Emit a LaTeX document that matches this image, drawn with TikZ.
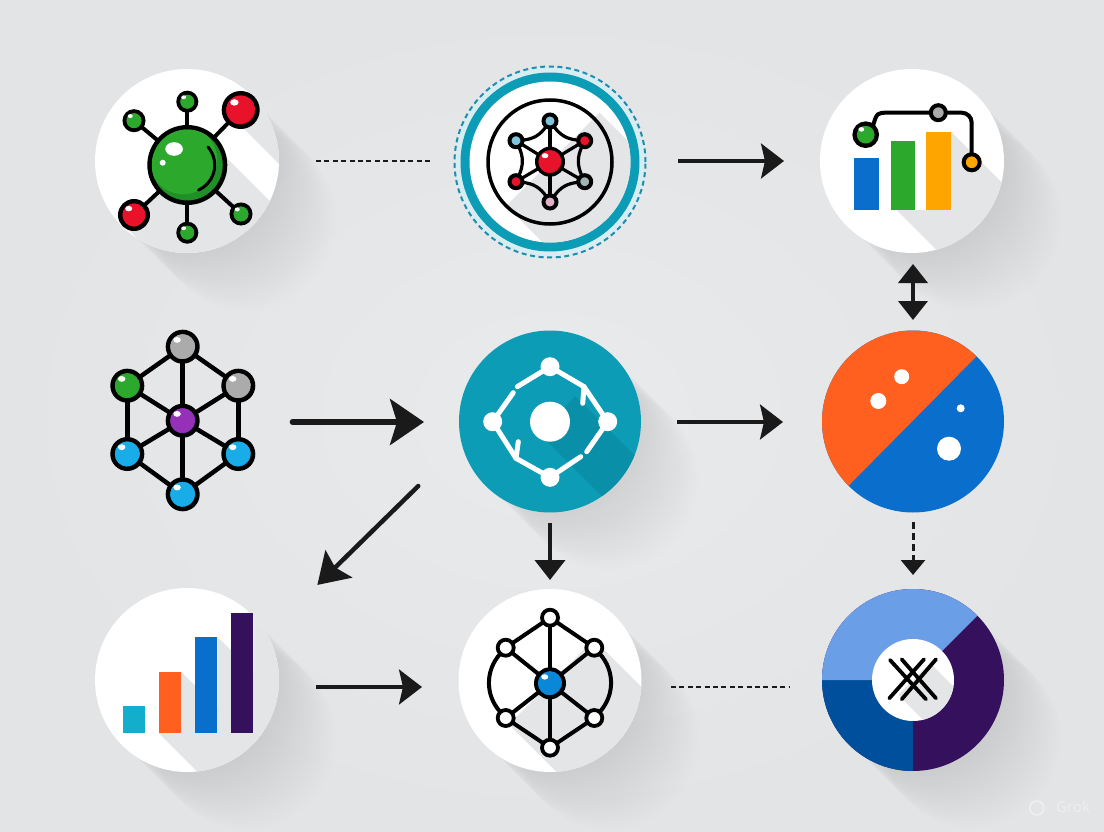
\documentclass[tikz,border=0pt]{standalone}
\usepackage{fontspec}
\setmainfont{Open Sans}
\usetikzlibrary{arrows.meta,calc}
\definecolor{bgin}{HTML}{E9EAEC}
\definecolor{bgout}{HTML}{E3E4E6}
\definecolor{bandg}{HTML}{E4E5E7}
\definecolor{teal}{HTML}{0C9CB5}
\definecolor{tealdk}{HTML}{0A8FA8}
\definecolor{ringd}{HTML}{1C8FB0}
\definecolor{halo}{HTML}{D8EDF2}
\definecolor{org}{HTML}{FF5F1F}
\definecolor{blu}{HTML}{0A6FCC}
\definecolor{grn}{HTML}{2CA82C}
\definecolor{grnd}{HTML}{1F9028}
\definecolor{rd}{HTML}{E8122A}
\definecolor{rdd}{HTML}{BE0F24}
\definecolor{amber}{HTML}{FFA500}
\definecolor{purp}{HTML}{35105C}
\definecolor{navy}{HTML}{004F9C}
\definecolor{sky}{HTML}{6A9FE8}
\definecolor{cyan2}{HTML}{18ACE8}
\definecolor{cyan2d}{HTML}{0D8FD0}
\definecolor{gry}{HTML}{ABABAB}
\definecolor{gryd}{HTML}{8E8E8E}
\definecolor{vio}{HTML}{9530B8}
\definecolor{viod}{HTML}{7A2399}
\definecolor{ink}{HTML}{1A1A1A}
\definecolor{pale}{HTML}{7FC4DC}
\definecolor{rosy}{HTML}{E0B0C8}
\definecolor{sage}{HTML}{9FB3B3}
\definecolor{hub}{HTML}{0A88D8}
\definecolor{hubd}{HTML}{0A68B8}
\definecolor{wm}{HTML}{EFEFF1}
\definecolor{tealbar}{HTML}{12AECB}
\tikzset{
  disc/.style={circle,inner sep=0pt,outer sep=0pt,fill=white,minimum size=#1},
  edge/.style={line width=4pt,black},
  arr/.style={draw=ink,line width=3.5pt,-{Stealth[length=23pt,width=35pt,inset=4pt]}},
  bigarr/.style={draw=ink,line width=5.5pt,line cap=round,-{Stealth[length=34pt,width=46pt,inset=7pt]}},
  diagarr/.style={draw=ink,line width=4.5pt,line cap=round,-{Stealth[length=30pt,width=38pt,inset=5pt]}},
  duo/.style={draw=ink,line width=4pt,{Stealth[length=19pt,width=29pt,inset=0pt]}-{Stealth[length=19pt,width=29pt,inset=0pt]}},
  downarr/.style={draw=ink,line width=4pt,-{Stealth[length=20pt,width=30pt,inset=0pt]}},
  dashline/.style={draw=ink,line width=2.5pt,dash pattern=on 5pt off 3.4pt},
  dashdown/.style={draw=ink,line width=3pt,dash pattern=on 7pt off 4pt,-{Stealth[length=15pt,width=24pt,inset=0pt]}},
  whiteline/.style={white,line width=5pt,line cap=round},
  thin edge/.style={line width=3.2pt,black},
}
\newcommand{\softsh}[3]{\foreach \d in {2,4.5,...,60}{\fill[black,opacity=.004] ({#1+\d},{#2+\d}) circle (#3);}}
\newcommand{\band}[5][bandg]{\fill[#1] ({#2+.707*#4},{#3-.707*#4}) -- ++(260,260) -- ({#2-.707*#5+260},{#3+.707*#5+260}) -- ({#2-.707*#5},{#3+.707*#5}) -- cycle;}
\newcommand{\rectband}[4]{\fill[bandg] (#2,#3) -- ++(260,260) -- ({#1+260},{#4+260}) -- (#1,#4) -- (#2,#4) -- cycle;}
\newcommand{\barbox}[5]{\fill[#5] (#1,#2) rectangle (#3,#4);}
\newcommand{\ball}[7][4]{%
  \node[circle,draw=black,line width=#1pt,fill=#7,inner sep=0pt,outer sep=0pt,minimum size={2*#5*1pt-#1*1pt}] (#2) at (#3,#4) {};
  \begin{scope}
    \clip (#3,#4) circle ({#5-#1});
    \fill[#6] ({#3-.1*#5},{#4-.12*#5}) circle ({#5*.85});
  \end{scope}
  \fill[white] ({#3-.33*#5},{#4-.4*#5}) ellipse ({.22*#5} and {.17*#5});
}
\newcommand{\flatball}[5]{\node[circle,draw=black,line width=4pt,fill=#5,inner sep=0pt,outer sep=0pt,minimum size=#4pt] (#1) at (#2,#3) {};}
\newcommand{\ringball}[4]{\node[circle,draw=black,line width=3.8pt,fill=white,inner sep=0pt,outer sep=0pt,minimum size=#4pt] (#1) at (#2,#3) {};}
\begin{document}
\begin{tikzpicture}[x=1pt,y=-1pt]
\useasboundingbox (0,0) rectangle (1104,832);
\shade[inner color=bgin,outer color=bgout] (0,0) rectangle (1104,832);
% outer shadows
\softsh{187}{161}{90}
\softsh{912}{161}{90}
\softsh{550}{421.5}{89}
\softsh{550}{680.5}{90}
\softsh{913}{680}{89}
\softsh{187}{680}{90}

% ---------- c1: molecule
\node[disc=184pt] (c1) at (187,161) {};
\begin{scope}
  \clip (187,161) circle (92);
  \band{187}{165}{33}{87}
  \band{240.7}{110}{19}{11}
\end{scope}
\ball[4.5]{a0}{187.3}{165}{40}{grn}{grnd}
\ball[4]{a1}{187.3}{101.7}{11}{grn}{grnd}
\ball[4]{a2}{134}{120.7}{11.5}{grn}{grnd}
\ball[4.5]{a3}{240.7}{110}{19}{rd}{rdd}
\ball[4.5]{a4}{134}{215}{16}{rd}{rdd}
\ball[4]{a5}{241}{214}{11.5}{grn}{grnd}
\ball[4]{a6}{187.3}{232.7}{11}{grn}{grnd}
\foreach \s in {a1,a2,a3,a4,a5,a6}{\draw[edge] (a0) -- (\s);}
\fill[white] (162.7,162.7) circle (3);
\draw[black,line width=3pt,line cap=round] (208,147) arc[start angle=-41,end angle=66,radius=27.5];

% ---------- c2: ringed network
\fill[halo] (550,162) circle (95);
\node[circle,inner sep=0pt,outer sep=0pt,minimum size=191pt,draw=ringd,line width=2pt,dash pattern=on 5pt off 3.6pt] (c2) at (550,162) {};
\fill[teal] (550,162) circle (89.5);
\fill[white] (550,162) circle (80.5);
\begin{scope}
  \clip (550,162) circle (80.5);
  \band{550}{162}{70}{62}
\end{scope}
\draw[black,line width=3.5pt] (550,162) circle (62);
\ball[3.5]{b0}{550}{161.7}{15}{rd}{rdd}
\flatball{b1}{550}{121}{13}{pale}
\flatball{b2}{516}{140.7}{13}{pale}
\flatball{b3}{584.7}{140.7}{13}{rd}
\flatball{b4}{516}{181.7}{13}{rd}
\flatball{b5}{584.7}{181.7}{13}{sage}
\flatball{b6}{550}{202}{13}{rosy}
\foreach \s in {b1,b2,b3,b4,b5,b6}{\draw[thin edge] (b0) -- (\s);}
\draw[thin edge] (b1) to[bend right=25] (b3);
\draw[thin edge] (b3) to[bend right=25] (b5);
\draw[thin edge] (b5) to[bend right=25] (b6);
\draw[thin edge] (b6) to[bend right=25] (b4);
\draw[thin edge] (b4) to[bend right=25] (b2);
\draw[thin edge] (b2) to[bend right=25] (b1);

% ---------- c3: bars with line
\node[disc=184pt] (c3) at (912,161) {};
\begin{scope}
  \clip (912,161) circle (92);
  \rectband{896.7}{951}{131.7}{210}
\end{scope}
\barbox{854}{157.7}{879}{210}{blu}
\barbox{890.7}{140.7}{915}{210}{grn}
\barbox{926.3}{131.7}{951}{210}{amber}
\ball[4.5]{g1}{865.7}{134.7}{13.3}{grn}{grnd}
\flatball{g2}{938.3}{112.7}{15}{gry}
\flatball{g3}{971.7}{162.3}{16}{amber}
\draw[edge] (g1.50) .. controls (877,112.7) .. (888,112.7) -- (g2.west);
\draw[edge,rounded corners=10pt] (g2.east) -| (g3.north);

% ---------- n: free-standing network
\ball[4.5]{n0}{182.7}{420.7}{17}{vio}{viod}
\ball[4.5]{n1}{182.7}{346.7}{17}{gry}{gryd}
\ball[4.5]{n2}{127.3}{385.7}{17}{grn}{grnd}
\ball[4.5]{n3}{238.3}{385.7}{17}{gry}{gryd}
\ball[4.5]{n4}{127.3}{454}{17}{cyan2}{cyan2d}
\ball[4.5]{n5}{238.3}{454}{17}{cyan2}{cyan2d}
\ball[4.5]{n6}{182.7}{494.3}{17}{cyan2}{cyan2d}
\foreach \s in {n1,n2,n3,n4,n5,n6}{\draw[edge,line width=4.5pt] (n0) -- (\s);}
\draw[edge,line width=4.5pt] (n1) -- (n2);
\draw[edge,line width=4.5pt] (n1) -- (n3);
\draw[edge,line width=4.5pt] (n2) -- (n4);
\draw[edge,line width=4.5pt] (n3) -- (n5);
\draw[edge,line width=4.5pt] (n4) -- (n6);
\draw[edge,line width=4.5pt] (n5) -- (n6);

% ---------- c4: teal disc
\node[disc=182pt,fill=teal] (c4) at (550,421.5) {};
\begin{scope}
  \clip (550,421.5) circle (91);
  \band[tealdk]{550}{421.5}{36}{16}
\end{scope}
\node[circle,fill=white,inner sep=0pt,minimum size=40pt] (d0) at (550,421.7) {};
\node[circle,fill=white,inner sep=0pt,minimum size=19pt] (d1) at (550,366.7) {};
\node[circle,fill=white,inner sep=0pt,minimum size=19pt] (d2) at (492.7,421.7) {};
\node[circle,fill=white,inner sep=0pt,minimum size=19pt] (d3) at (607.7,421.7) {};
\node[circle,fill=white,inner sep=0pt,minimum size=19pt] (d4) at (550,477.3) {};
\coordinate (k1) at (584,386.7);
\coordinate (k2) at (516,458.3);
\draw[whiteline] (d1.center) -- (517.3,386.7);
\draw[whiteline] (d1.center) -- (k1) -- (d3.center);
\draw[whiteline] (k1) -- (582.7,403.3);
\draw[whiteline] (d2.center) -- (k2) -- (d4.center);
\draw[whiteline] (k2) -- (518.3,441.7);
\draw[whiteline] (d2.center) -- (513.3,392.7);
\draw[whiteline] (d4.center) -- (580.7,456.7);
\draw[whiteline] (d3.center) -- (586.7,451.7);

% ---------- c5: split disc
\node[disc=182pt,fill=blu] (c5) at (913,421.5) {};
\begin{scope}
  \clip (913,421.5) circle (91);
  \fill[org] (1000,332.5) -- (830,504.5) -- (700,300) -- (1000,250) -- cycle;
\end{scope}
\fill[white] (901.7,376.7) circle (7.5);
\fill[white] (878.3,401) circle (8);
\fill[white] (960.7,408.3) circle (4);
\fill[white] (949,448.7) circle (12);

% ---------- c6: hub network
\node[disc=183pt] (c6) at (550,680.5) {};
\begin{scope}
  \clip (550,680.5) circle (91.5);
  \band{550}{683.3}{62}{58}
\end{scope}
\ball[4]{e0}{550}{683.3}{16}{hub}{hubd}
\ringball{e1}{550}{617.7}{16}
\ringball{e2}{505.7}{647.7}{16}
\ringball{e3}{594.3}{647.7}{16}
\ringball{e4}{505.7}{718}{16}
\ringball{e5}{594.3}{718}{16}
\ringball{e6}{550}{747.7}{16}
\foreach \s in {e1,e2,e3,e4,e5,e6}{\draw[edge] (e0) -- (\s);}
\draw[edge] (e1) -- (e2);
\draw[edge] (e1) -- (e3);
\draw[edge] (e6) -- (e4);
\draw[edge] (e6) -- (e5);
\draw[edge] (e2) to[bend right=42] (e4);
\draw[edge] (e3) to[bend left=42] (e5);

% ---------- c7: donut
\node[disc=182pt,fill=purp] (c7) at (913,680) {};
\begin{scope}
  \clip (913,680) circle (91);
  \fill[navy] (913,680) rectangle (800,800);
  \fill[sky] (913,680) -- (800,680) -- (800,560) -- (1033,560) -- cycle;
\end{scope}
\node[disc=82pt] (c7i) at (913,680) {};
\begin{scope}
  \clip (913,680) circle (41);
  \band{913}{680}{24}{21}
\end{scope}
\foreach \p/\q in {{890,660}/{926,699.3},{901.7,659.3}/{936,698.3},{924,659.3}/{889.3,698.3},{936,659.3}/{901.7,699.3}}{
  \draw[black,line width=3.8pt,line cap=round] (\p) -- (\q);}
\fill[white] (912.7,679.5) circle (1.6);

% ---------- c8: rising bars
\node[disc=184pt] (c8) at (187,680) {};
\begin{scope}
  \clip (187,680) circle (92);
  \rectband{158.7}{181}{671.7}{733}
  \rectband{194.7}{217.3}{636.7}{733}
  \rectband{230.7}{253.3}{613.3}{733}
\end{scope}
\barbox{122.7}{706.3}{145.3}{733}{tealbar}
\barbox{158.7}{671.7}{181}{733}{org}
\barbox{194.7}{636.7}{217.3}{733}{blu}
\barbox{230.7}{613.3}{253.3}{733}{purp}

% ---------- connectors
\draw[dashline] ($(c1.east)+(37,0)$) -- ($(c2.west)+(-23,-1)$);
\draw[arr] ($(c2.east)+(32.5,-1)$) -- ($(c3.west)+(-36,0)$);
\draw[duo] ($(c3.south)+(1,11)$) -- ($(c5.north)+(0,-10.5)$);
\draw[bigarr] ($(n0.east)+(95,1.3)$) -- ($(c4.west)+(-35,0.5)$);
\draw[arr] ($(c4.east)+(36,0.5)$) -- ($(c5.west)+(-39,0.5)$);
\draw[downarr] ($(c4.south)+(0,10.5)$) -- ($(c6.north)+(0,-9)$);
\draw[diagarr] ($(c4.south west)+(-67.4,0.2)$) -- ($(c8.north east)+(65.3,-30)$);
\draw[dashdown] ($(c5.south)+(0,9.5)$) -- ($(c7.north)+(0,-14)$);
\draw[arr] ($(c8.east)+(37,7)$) -- ($(c6.west)+(-36.5,6.5)$);
\draw[dashline] ($(c6.east)+(29.5,6.5)$) -- ($(c7.west)+(-32,7)$);

% ---------- watermark
\draw[wm,line width=1.6pt] (1036.7,808) circle (7);
\node[text=wm,font=\fontsize{15}{15}\selectfont,inner sep=0pt,anchor=west] (wmark) at (1056,807) {Grok};
\end{tikzpicture}
\end{document}
